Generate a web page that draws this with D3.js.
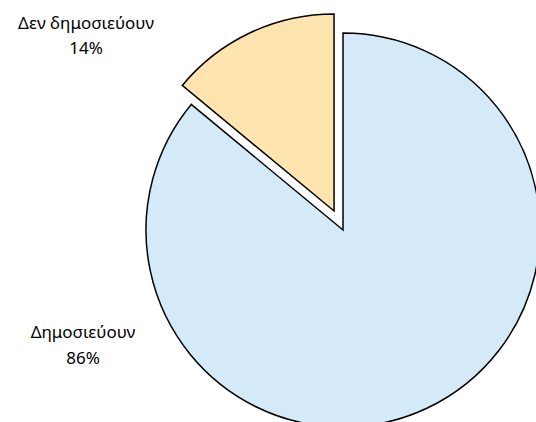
<!DOCTYPE html>
<html><head><meta charset="utf-8">
<script src="https://cdn.jsdelivr.net/npm/d3@7"></script>
<style>body{margin:0;background:#fff}text{font-family:"Noto Sans",sans-serif;fill:#000}</style>
</head><body>
<svg id="c" width="536" height="422"></svg>
<script>
const categories = ["Δεν δημοσιεύουν", "Δημοσιεύουν"];
const values = [14, 86];
const labels = ["14%", "86%"];
const colors = ["#fee4ae", "#d5eaf8"];

const svg = d3.select("#c");
const cx = 343, cy = 230, r = 197, explode = 21;
const pie = d3.pie().sort(null).startAngle(-2 * Math.PI * values[0] / 100).endAngle(2 * Math.PI - 2 * Math.PI * values[0] / 100);
const arcs = pie(values);
const arc = d3.arc().innerRadius(0).outerRadius(r);
const g = svg.append("g").attr("transform", `translate(${cx},${cy})`);
g.selectAll("path").data(arcs).join("path")
  .attr("d", arc)
  .attr("fill", (d, i) => colors[i])
  .attr("stroke", "#000").attr("stroke-width", 1.5).attr("stroke-linejoin", "miter")
  .attr("transform", (d, i) => {
    if (i !== 0) return null;
    const a = (d.startAngle + d.endAngle) / 2;
    return `translate(${explode * Math.sin(a)},${-explode * Math.cos(a)})`;
  });

const labelPos = [[86, 29, 54], [83, 338, 364]];
categories.forEach((c, i) => {
  const t = svg.append("text").attr("text-anchor", "middle").attr("font-size", 17);
  t.append("tspan").attr("x", labelPos[i][0]).attr("y", labelPos[i][1]).text(c);
  t.append("tspan").attr("x", labelPos[i][0]).attr("y", labelPos[i][2]).text(labels[i]);
});
</script>
</body></html>
